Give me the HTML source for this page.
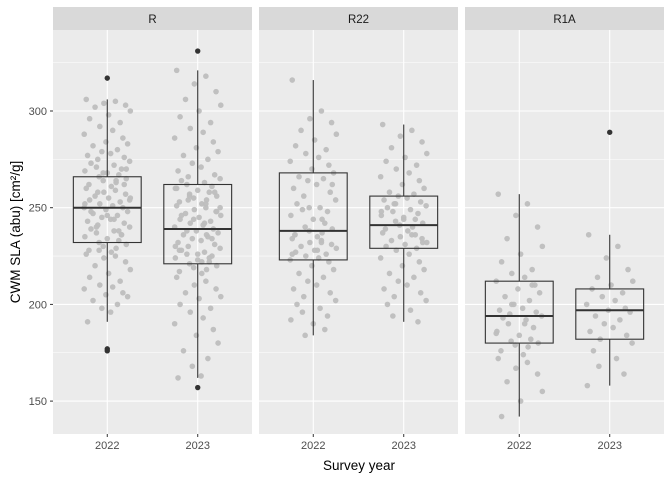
<!DOCTYPE html>
<html><head><meta charset="utf-8"><style>
body{margin:0;background:#fff;}
svg text{font-family:"Liberation Sans",Arial,sans-serif;}
</style></head><body>
<svg id="chart" width="672" height="480" xmlns="http://www.w3.org/2000/svg"></svg>
<script>
const panels = ["R","R22","R1A"];
const years = ["2022","2023"];
const yTicks = [150,200,250,300];
// box stats per panel/year: [lowWhisker, q1, median, q3, highWhisker]
const boxStats = [
  [[191,232,250,266,306],[162,221,239,262,321]],
  [[184,223,238,268,316],[191,229,241,256,293]],
  [[142,180,194,212,257],[158,182,197,208,236]]
];
const outliers = [
  [[317,177,176],[331,157]],
  [[],[]],
  [[],[289]]
];
const pointsR2022 = [306,305,304,303,302,300,298,296,294,292,290,288,286,284,283,282,280,279,278,277,276,275,274,273,272,271,270,269,268,267,266,265,264,263,262,261,260,259,258,257,256,255,255,254,253,252,251,250,250,249,248,247,246,245,244,243,242,241,240,239,238,237,236,235,234,233,232,231,230,229,228,227,226,225,224,222,220,218,216,214,212,210,209,208,206,205,204,202,200,198,196,191,262,258,254,248,244,240,236,252,246,238,228,270,268,264];
const pointsR2023 = [321,318,314,310,306,303,300,297,294,291,289,286,284,281,279,277,275,273,271,269,267,266,265,264,263,262,261,260,259,258,257,256,255,254,253,252,251,250,249,248,247,246,245,244,243,242,241,240,239,238,237,236,235,234,233,232,231,230,229,228,227,226,225,224,223,222,221,220,219,218,217,216,214,212,210,208,206,204,203,200,198,196,193,190,187,184,180,176,172,168,163,162,258,254,250,246,242,238,234,230,226,224,256,248,244,236,228,222,260,252];
const pointsR22_2022 = [316,300,296,294,290,288,285,282,280,278,276,274,272,270,268,266,265,264,262,260,258,256,254,252,250,249,248,246,244,242,240,239,238,237,236,235,234,233,232,231,230,229,228,227,226,225,224,223,222,220,218,216,214,212,210,208,206,204,202,200,198,196,194,192,190,187,184,262,250,244,236,228,226,232];
const pointsR22_2023 = [293,290,287,284,281,278,276,274,272,270,268,266,264,262,260,258,257,256,255,254,253,252,251,250,249,248,247,246,245,244,243,242,241,240,239,238,237,236,235,234,233,232,231,230,229,228,226,224,222,220,218,216,214,212,210,208,206,204,202,200,197,194,191,248,244,236,252,232];
const pointsR1A_2022 = [257,252,246,240,234,230,226,222,218,216,214,212,210,208,206,204,202,200,198,197,196,195,194,193,192,190,188,186,184,182,181,180,179,178,176,174,172,170,167,164,160,155,150,142,210,200,190,185];
const pointsR1A_2023 = [236,230,224,218,214,212,210,208,206,204,202,200,198,197,196,194,192,190,188,186,184,182,180,176,172,168,164,158];
const pointGroups = [[pointsR2022,pointsR2023],[pointsR22_2022,pointsR22_2023],[pointsR1A_2022,pointsR1A_2023]];
const jitterPattern = [-0.31,0.12,-0.05,0.27,-0.18,0.34,0.02,-0.26,0.19,-0.11,0.08,-0.34,0.23,-0.02,0.3,-0.21,0.15,-0.08,0.05,-0.29,0.25,-0.14,0.33,-0.24,0.1,-0.16,0.21,-0.33,0.0,0.17,-0.12,0.28,-0.06,0.13,-0.27,0.06];

const svg = document.getElementById('chart');
const NS = 'http://www.w3.org/2000/svg';
function mk(tag, attrs, parent){
  const e = document.createElementNS(NS, tag);
  for (const k in attrs) e.setAttribute(k, attrs[k]);
  (parent||svg).appendChild(e);
  return e;
}
const panelLeft = [53,259,465], panelW = 199, panelTop = 30, panelBottom = 434;
function yScale(v){ return 111 + (300 - v) * (96.7/50); }
function xScale(p, i){ return panelLeft[p] + panelW * (0.6 + i) / 2.2; }
const unit = panelW / 2.2;

panels.forEach((name, p) => {
  const g = mk('g', {});
  
  
  const bg = mk('rect', {x:panelLeft[p], y:panelTop, width:panelW, height:panelBottom-panelTop, fill:'#ebebeb'}, g);
  
  
  const strip = mk('rect', {x:panelLeft[p], y:7, width:panelW, height:23, fill:'#d9d9d9'}, g);
  
  
  const st = mk('text', {x:panelLeft[p]+panelW/2, y:23, 'text-anchor':'middle', 'font-size':'11.5', fill:'#1a1a1a'}, g);
  st.textContent = name;
  
  
  for (let i = 0; i < yTicks.length; i++) {
    const mv = yTicks[i] + 25;
    const ln = mk('line', {x1:panelLeft[p], x2:panelLeft[p]+panelW, y1:yScale(mv), y2:yScale(mv), stroke:'#fff', 'stroke-width':0.55}, g);
    
    
  }
  yTicks.forEach(t => {
    const ln = mk('line', {x1:panelLeft[p], x2:panelLeft[p]+panelW, y1:yScale(t), y2:yScale(t), stroke:'#fff', 'stroke-width':1.1}, g);
    
    
  });
  years.forEach((yr, i) => {
    const x = xScale(p, i);
    const ln = mk('line', {x1:x, x2:x, y1:panelTop, y2:panelBottom, stroke:'#fff', 'stroke-width':1.1}, g);
    
    
    const tk = mk('line', {x1:x, x2:x, y1:panelBottom, y2:panelBottom+3, stroke:'#333', 'stroke-width':1}, g);
    
    
    const tl = mk('text', {x:x, y:panelBottom+15, 'text-anchor':'middle', 'font-size':'11', fill:'#4d4d4d'}, g);
    tl.textContent = yr;
    
    
    const pts = pointGroups[p][i];
    pts.forEach((v, k) => {
      const c = mk('circle', {cx: x + jitterPattern[k % jitterPattern.length] * unit * 0.75, cy: yScale(v), r: 2.8, fill:'#bebebe', 'fill-opacity':0.95}, g);
      
      
    });
    const s = boxStats[p][i];
    const hw = unit * 0.375;
    const w1 = mk('line', {x1:x, x2:x, y1:yScale(s[0]), y2:yScale(s[1]), stroke:'#333', 'stroke-width':1.1}, g);
    
    
    const w2 = mk('line', {x1:x, x2:x, y1:yScale(s[3]), y2:yScale(s[4]), stroke:'#333', 'stroke-width':1.1}, g);
    
    
    const bx = mk('rect', {x:x-hw, y:yScale(s[3]), width:2*hw, height:yScale(s[1])-yScale(s[3]), fill:'none', stroke:'#333', 'stroke-width':1.1}, g);
    
    
    const md = mk('line', {x1:x-hw, x2:x+hw, y1:yScale(s[2]), y2:yScale(s[2]), stroke:'#333', 'stroke-width':2}, g);
    
    
    outliers[p][i].forEach(v => {
      const o = mk('circle', {cx:x, cy:yScale(v), r:2.7, fill:'#333'}, g);
      
      
    });
  });
});
yTicks.forEach(t => {
  const tk = mk('line', {x1:50, x2:53, y1:yScale(t), y2:yScale(t), stroke:'#333', 'stroke-width':1});
  
  
  const tl = mk('text', {x:47, y:yScale(t)+4, 'text-anchor':'end', 'font-size':'11', fill:'#4d4d4d'});
  tl.textContent = t;
  
  
});
const xt = mk('text', {x:359, y:470, 'text-anchor':'middle', 'font-size':'13.5', fill:'#000'});
xt.textContent = 'Survey year';


const yt = mk('text', {x:0, y:0, 'text-anchor':'middle', 'font-size':'13.5', fill:'#000', transform:'translate(20,232) rotate(-90)'});
yt.textContent = 'CWM SLA (abu) [cm²/g]';


</script>
</body></html>
